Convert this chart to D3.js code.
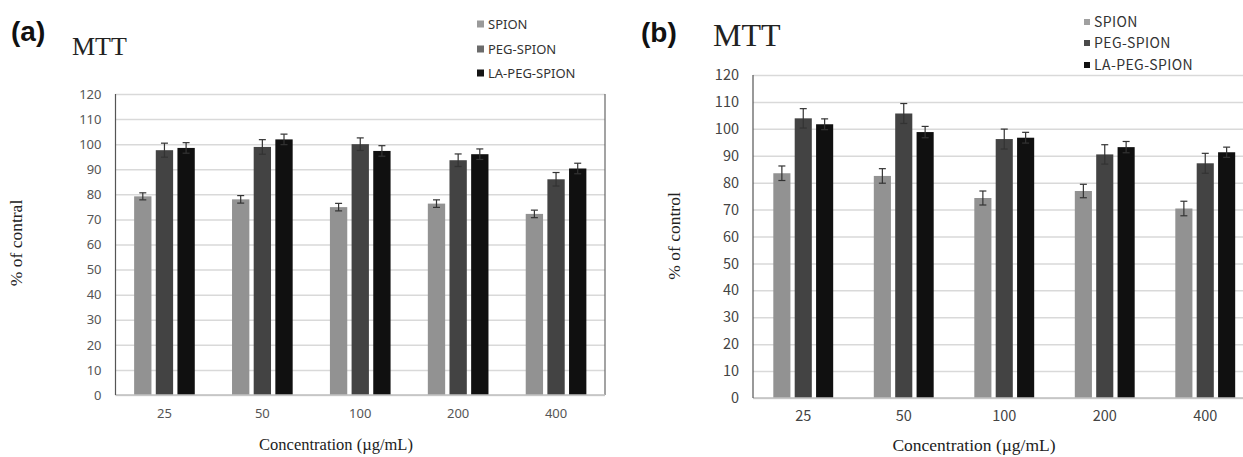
<!DOCTYPE html>
<html>
<head>
<meta charset="utf-8">
<script src="https://cdn.jsdelivr.net/npm/d3@7"></script>
<style>
  body { margin: 0; background: #fff; }
  svg { display: block; }
</style>
</head>
<body>
<svg id="chart" width="1243" height="457"></svg>
<script>
// data
const concentrations = ["25", "50", "100", "200", "400"];
const seriesNames = ["SPION", "PEG-SPION", "LA-PEG-SPION"];
const yTicks = [0, 10, 20, 30, 40, 50, 60, 70, 80, 90, 100, 110, 120];

// panel (a)
const spionA = [79.2, 78.0, 74.9, 76.3, 72.2];
const pegA = [97.6, 98.9, 100.0, 93.6, 86.0];
const laA = [98.5, 101.9, 97.3, 96.0, 90.3];
const spionErrA = [1.4, 1.5, 1.5, 1.5, 1.5];
const pegErrA = [2.8, 2.9, 2.5, 2.5, 2.7];
const laErrA = [2.1, 2.1, 2.1, 2.1, 2.1];

// panel (b)
const spionB = [83.5, 82.5, 74.3, 76.9, 70.4];
const pegB = [103.9, 105.7, 96.2, 90.5, 87.2];
const laB = [101.7, 98.8, 96.7, 93.2, 91.3];
const spionErrB = [2.7, 2.7, 2.6, 2.5, 2.7];
const pegErrB = [3.6, 3.7, 3.7, 3.6, 3.7];
const laErrB = [2.0, 2.1, 2.0, 2.1, 1.9];

const svg = d3.select("#chart");

function drawPanel(p) {
  const g = svg.append("g");

  const x0 = d3.scaleBand().domain(concentrations).range([p.left, p.right]);
  const x1 = d3.scaleBand().domain(seriesNames)
    .range([0, x0.bandwidth()])
    .paddingInner(0.2)
    .paddingOuter(p.outer);
  const y = d3.scaleLinear().domain([0, 120]).range([p.bottom, p.top]);

  // gridlines
  g.append("g")
    .attr("transform", `translate(${p.left},0)`)
    .call(d3.axisLeft(y).tickValues(yTicks).tickSize(-(p.right - p.left)).tickFormat(""))
    .call(a => a.select(".domain").remove())
    .selectAll("line")
    .attr("stroke", "#d9d9d9")
    .attr("stroke-width", 1.5);

  // frame
  if (p.frame) {
    g.append("line").attr("x1", p.right).attr("x2", p.right)
      .attr("y1", y(120)).attr("y2", y(0))
      .attr("stroke", "#666").attr("stroke-width", 1.2);
  }

  // y tick labels
  g.append("g")
    .attr("transform", `translate(${p.left},0)`)
    .call(d3.axisLeft(y).tickValues(yTicks).tickSize(0).tickPadding(p.tickPad))
    .call(a => a.select(".domain").remove())
    .selectAll("text")
    .attr("font-family", p.tickFont)
    .attr("font-size", p.tickSize)
    .attr("fill", p.tickColor);

  // x tick labels
  g.append("g")
    .attr("transform", `translate(0,${p.bottom})`)
    .call(d3.axisBottom(x0).tickSize(0).tickPadding(p.xPad))
    .call(a => a.select(".domain").remove())
    .selectAll("text")
    .attr("font-family", p.tickFont)
    .attr("font-size", p.tickSize)
    .attr("fill", p.tickColor);

  // bars
  const rows = concentrations.map((c, i) => ({
    c,
    items: seriesNames.map((s, k) => ({ s, v: p.values[k][i], e: p.errs[k][i] }))
  }));

  const groups = g.selectAll(".grp")
    .data(rows)
    .enter()
    .append("g")
    .attr("transform", d => `translate(${x0(d.c)},0)`);

  groups.selectAll("rect")
    .data(d => d.items)
    .enter()
    .append("rect")
    .attr("x", d => x1(d.s))
    .attr("width", x1.bandwidth())
    .attr("y", d => y(d.v))
    .attr("height", d => y(0) - y(d.v))
    .attr("fill", (d, k) => p.colors[k]);

  // error bars
  const eb = groups.selectAll(".err")
    .data(d => d.items)
    .enter()
    .append("g")
    .attr("stroke", "#333")
    .attr("stroke-width", 1.2);
  const cx = d => x1(d.s) + x1.bandwidth() / 2;
  eb.append("line").attr("x1", cx).attr("x2", cx)
    .attr("y1", d => y(d.v - d.e)).attr("y2", d => y(d.v + d.e));
  eb.append("line").attr("x1", d => cx(d) - 3.5).attr("x2", d => cx(d) + 3.5)
    .attr("y1", d => y(d.v + d.e)).attr("y2", d => y(d.v + d.e));
  eb.append("line").attr("x1", d => cx(d) - 3.5).attr("x2", d => cx(d) + 3.5)
    .attr("y1", d => y(d.v - d.e)).attr("y2", d => y(d.v - d.e));

  // axes lines
  g.append("line").attr("x1", p.left).attr("x2", p.right)
    .attr("y1", y(0)).attr("y2", y(0))
    .attr("stroke", "#bfbfbf").attr("stroke-width", 1.5);
  g.append("line").attr("x1", p.left).attr("x2", p.left)
    .attr("y1", y(120)).attr("y2", y(0))
    .attr("stroke", "#555").attr("stroke-width", 1.2);

  // panel letter and title
  g.append("text").attr("x", p.letterX).attr("y", p.letterY)
    .attr("font-family", "Liberation Sans, Arial, sans-serif")
    .attr("font-weight", "bold").attr("font-size", 28)
    .attr("fill", "#111").text(p.letter);
  g.append("text").attr("x", p.titleX).attr("y", p.titleY)
    .attr("font-family", "Liberation Serif, Times New Roman, serif")
    .attr("font-size", p.titleSize)
    .attr("fill", "#222").text("MTT");

  // legend
  const leg = g.selectAll(".leg")
    .data(seriesNames)
    .enter()
    .append("g")
    .attr("transform", (d, k) => `translate(${p.legX},${p.legY[k]})`);
  leg.append("rect")
    .attr("x", 0).attr("y", -p.legBox / 2)
    .attr("width", p.legBox).attr("height", p.legBox)
    .attr("fill", (d, k) => p.legColors[k]);
  leg.append("text")
    .attr("x", p.legBox + 4).attr("dy", "0.35em")
    .attr("font-family", p.tickFont)
    .attr("font-size", p.legSize)
    .attr("letter-spacing", p.legSpacing)
    .attr("fill", "#333")
    .text(d => d);

  // axis titles
  g.append("text")
    .attr("transform", `translate(${p.yTitleX},${p.yTitleY}) rotate(-90)`)
    .attr("text-anchor", "middle")
    .attr("font-family", "Liberation Serif, Times New Roman, serif")
    .attr("font-size", 17.5)
    .attr("fill", "#222")
    .text(p.yTitle);
  g.append("text")
    .attr("x", p.xTitleX).attr("y", p.xTitleY)
    .attr("text-anchor", "middle")
    .attr("font-family", "Liberation Serif, Times New Roman, serif")
    .attr("font-size", p.xTitleSize)
    .attr("fill", "#222")
    .text("Concentration (\u00b5g/mL)");
}

drawPanel({
  left: 115.5, right: 605, top: 94, bottom: 395, outer: 0.86, frame: true,
  values: [spionA, pegA, laA], errs: [spionErrA, pegErrA, laErrA],
  colors: ["#929292", "#434343", "#101010"],
  legColors: ["#9a9a9a", "#6b6b6b", "#151515"],
  tickFont: "Noto Sans, sans-serif", tickSize: 13, tickColor: "#555",
  tickPad: 14, xPad: 14,
  letter: "(a)", letterX: 11, letterY: 41,
  titleX: 72, titleY: 55, titleSize: 26,
  legX: 477, legY: [24, 49, 73], legBox: 7, legSize: 13, legSpacing: 0,
  yTitle: "% of contral", yTitleX: 22, yTitleY: 243,
  xTitleX: 336, xTitleY: 450, xTitleSize: 16.5
});

drawPanel({
  left: 753, right: 1255.5, top: 75, bottom: 398, outer: 0.95, frame: false,
  values: [spionB, pegB, laB], errs: [spionErrB, pegErrB, laErrB],
  colors: ["#929292", "#434343", "#101010"],
  legColors: ["#a0a0a0", "#4a4a4a", "#111"],
  tickFont: "Noto Sans CJK SC, Noto Sans, sans-serif", tickSize: 14.5, tickColor: "#444",
  tickPad: 14, xPad: 13,
  letter: "(b)", letterX: 641, letterY: 42,
  titleX: 713, titleY: 46, titleSize: 32,
  legX: 1084, legY: [22, 43, 65], legBox: 6, legSize: 14, legSpacing: 0.4,
  yTitle: "% of control", yTitleX: 680, yTitleY: 236,
  xTitleX: 974, xTitleY: 451, xTitleSize: 17.5
});
</script>
</body>
</html>
